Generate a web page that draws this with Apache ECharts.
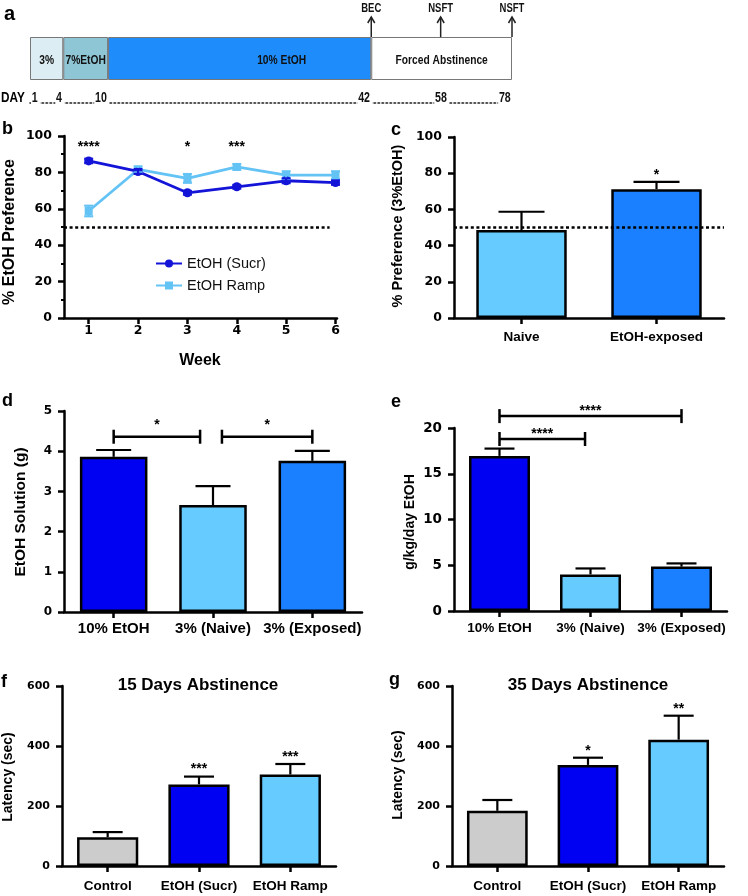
<!DOCTYPE html>
<html>
<head>
<meta charset="utf-8">
<title>EtOH preference figure</title>
<script src="https://cdn.jsdelivr.net/npm/echarts@6.0.0/dist/echarts.min.js"></script>
<style>
    html, body { margin: 0; padding: 0; background: #fff; }
    #main { width: 748px; height: 896px; }
</style>
</head>
<body>
<div id="main"></div>
<script>
// a: timeline (segment widths are schematic, not to day scale)
var phaseNames = ["3%", "7%EtOH", "10% EtOH", "Forced Abstinence"];
var phaseSpan = [6.9, 9.3, 54.6, 29.2];
var dayNames = ["1", "4", "10", "42", "58", "78"];
var dayPos = [0, 6.9, 16.2, 70.8, 85.2, 100];
var eventNames = ["BEC", "NSFT", "NSFT"];
var eventPos = [70.8, 85.2, 100];

// b: weekly preference
var weeks = [1, 2, 3, 4, 5, 6];
var sucrPref = [86.3, 80.5, 68.8, 72.1, 75.4, 74.4];
var sucrErr = [1.2, 1.3, 1.0, 1.0, 1.3, 1.2];
var rampPref = [58.8, 81.6, 76.7, 83.0, 78.5, 78.5];
var rampErr = [2.9, 1.6, 2.4, 1.5, 2.1, 2.1];
var weekSig = ["****", "", "*", "***", "", ""];

// c: 3% preference
var prefGroups = ["Naive", "EtOH-exposed"];
var prefMean = [48.6, 71.2];
var prefErr = [10.1, 4.0];
var prefSig = ["", "*"];

// d: solution consumed
var solGroups = ["10% EtOH", "3% (Naive)", "3% (Exposed)"];
var solMean = [3.86, 2.66, 3.76];
var solErr = [0.17, 0.47, 0.25];
var solBrFrom = [0, 1.09];
var solBrTo = [0.87, 2];
var solBrLevel = [4.36, 4.36];
var solBrSig = ["*", "*"];

// e: dose
var doseMean = [16.95, 4.0, 4.85];
var doseErr = [0.8, 0.65, 0.35];
var doseBrFrom = [0, 0];
var doseBrTo = [0.94, 2];
var doseBrLevel = [18.8, 21.3];
var doseBrSig = ["****", "****"];

// f, g: NSFT latency
var nsftGroups = ["Control", "EtOH (Sucr)", "EtOH Ramp"];
var lat15Mean = [96, 272, 305];
var lat15Err = [17, 26, 35];
var lat15Sig = ["", "***", "***"];
var lat35Mean = [184, 337, 421];
var lat35Err = [36, 24, 80];
var lat35Sig = ["", "*", "**"];

var DARK = "#0000f2", LIGHT = "#66ccff", MID = "#1a80ff", GREY = "#cccccc";
var LINE_DARK = "#1414d8", LINE_LIGHT = "#64c3f5";
var NUM_FONT = "DejaVu Sans";
var TXT_FONT = "Liberation Sans, Arial, sans-serif";

var grids = [], xAxes = [], yAxes = [], series = [], graphics = [];

function txt(x, y, s, size, opts) {
    opts = opts || {};
    graphics.push({
        type: "text", x: x, y: y, rotation: opts.rot || 0, scaleX: opts.sx || 1, silent: true,
        style: {
            text: s, fill: "#000", fontSize: size, fontWeight: opts.weight || "bold",
            fontFamily: TXT_FONT, align: opts.align || "center", verticalAlign: "middle"
        }
    });
}

function axisLine() {
    return {show: true, onZero: false, lineStyle: {color: "#000", width: 2.5}};
}

function axisTick(extra) {
    var t = {show: true, length: 6, lineStyle: {color: "#000", width: 2.5}};
    for (var k in extra) t[k] = extra[k];
    return t;
}

function catX(api, v) {
    var i0 = Math.floor(v), f = v - i0;
    var a = api.coord([i0, 0])[0];
    if (f === 0) return a;
    var b = api.coord([i0 + 1, 0])[0];
    return a + (b - a) * f;
}

// condensed text (no narrow font installed, so squeeze it)
function narrowText(x, y, s, size, align, vAlign, extra) {
    var st = {
        text: s, fill: "#111", fontSize: size, fontWeight: "bold", fontFamily: TXT_FONT,
        align: align, verticalAlign: vAlign
    };
    for (var k in extra) st[k] = extra[k];
    return {type: "text", x: x, y: y, scaleX: 0.76, style: st};
}

// error bars (up only for bars, both ways for the line plot)
function errorSeries(gi, xs, means, errs, color, capPx, both) {
    return {
        type: "custom", xAxisIndex: gi, yAxisIndex: gi, z: 4, silent: true, clip: false,
        encode: {x: 0, y: 1},
        data: means.map(function (m, i) { return [xs[i], m, errs[i]]; }),
        renderItem: function (params, api) {
            var m = api.value(1), e = api.value(2);
            var lo = api.coord([api.value(0), both ? m - e : m]);
            var hi = api.coord([api.value(0), m + e]);
            var st = {stroke: color, lineWidth: 2.2};
            var kids = [
                {type: "line", shape: {x1: hi[0], y1: lo[1], x2: hi[0], y2: hi[1]}, style: st},
                {type: "line", shape: {x1: hi[0] - capPx, y1: hi[1], x2: hi[0] + capPx, y2: hi[1]}, style: st}
            ];
            if (both) {
                kids.push({type: "line", shape: {x1: hi[0] - capPx, y1: lo[1], x2: hi[0] + capPx, y2: lo[1]}, style: st});
            }
            return {type: "group", children: kids};
        }
    };
}

// significance stars
function textSeries(gi, xs, ys, texts, dy, size) {
    return {
        type: "custom", xAxisIndex: gi, yAxisIndex: gi, z: 5, silent: true, clip: false,
        encode: {x: 0, y: 1},
        data: xs.map(function (x, i) { return [x, ys[i]]; }),
        renderItem: function (params, api) {
            var p = api.coord([api.value(0), api.value(1)]);
            return {
                type: "text", x: p[0], y: p[1] + dy,
                style: {
                    text: texts[params.dataIndex], fill: "#000", fontSize: size,
                    fontWeight: "bold", fontFamily: TXT_FONT, align: "center", verticalAlign: "middle"
                }
            };
        }
    };
}

// comparison brackets
function bracketSeries(gi, from, to, level, sig, starDy) {
    return {
        type: "custom", xAxisIndex: gi, yAxisIndex: gi, z: 5, silent: true, clip: false,
        encode: {x: 0, y: 1},
        data: level.map(function (l) { return [0, l]; }),
        renderItem: function (params, api) {
            var i = params.dataIndex;
            var y = api.coord([0, api.value(1)])[1];
            var x1 = catX(api, from[i]), x2 = catX(api, to[i]);
            var st = {stroke: "#000", lineWidth: 2.5};
            return {
                type: "group", children: [
                    {type: "line", shape: {x1: x1, y1: y, x2: x2, y2: y}, style: st},
                    {type: "line", shape: {x1: x1, y1: y - 7, x2: x1, y2: y + 7}, style: st},
                    {type: "line", shape: {x1: x2, y1: y - 7, x2: x2, y2: y + 7}, style: st},
                    {
                        type: "text", x: (x1 + x2) / 2, y: y - starDy,
                        style: {
                            text: sig[i], fill: "#000", fontSize: 14, fontWeight: "bold",
                            fontFamily: TXT_FONT, align: "center", verticalAlign: "middle"
                        }
                    }
                ]
            };
        }
    };
}

// generic bar panel
function barPanel(p) {
    var gi = grids.length;
    grids.push({left: p.left, top: p.top, width: p.width, height: p.height});
    xAxes.push({
        gridIndex: gi, type: "category", data: p.cats,
        axisLine: axisLine(), axisTick: axisTick({alignWithLabel: true}),
        axisLabel: {
            interval: 0, margin: p.catMargin, color: "#000", fontSize: p.catSize,
            fontWeight: "bold", fontFamily: TXT_FONT
        },
        splitLine: {show: false}
    });
    yAxes.push({
        gridIndex: gi, type: "value", min: 0, max: p.max, interval: p.step,
        axisLine: axisLine(), axisTick: axisTick(),
        axisLabel: {margin: 12, color: "#000", fontSize: p.numSize, fontWeight: "bold", fontFamily: NUM_FONT},
        splitLine: {show: false}
    });
    var bar = {
        type: "bar", xAxisIndex: gi, yAxisIndex: gi, barWidth: p.barWidth || "67%", silent: true,
        data: p.means.map(function (v, i) {
            return {value: v, itemStyle: {color: p.colors[i]}};
        }),
        itemStyle: {borderColor: "#000", borderWidth: 2.5}
    };
    if (p.refLine != null) {
        bar.markLine = {
            silent: true, symbol: ["none", "none"], label: {show: false},
            lineStyle: {color: "#000", width: 2.5, type: [3, 2.6]},
            data: [{yAxis: p.refLine}]
        };
    }
    series.push(bar);
    var idx = p.cats.map(function (c, i) { return i; });
    series.push(errorSeries(gi, idx, p.means, p.errs, "#000", p.cap, false));
    if (p.sig) {
        var tops = p.means.map(function (m, i) { return m + p.errs[i]; });
        series.push(textSeries(gi, idx, tops, p.sig, -7, 14));
    }
    return gi;
}

// ---- panel a ----
grids.push({left: 30, top: 37, width: 482, height: 43});
xAxes.push({gridIndex: 0, type: "value", min: 0, max: 100, show: false});
yAxes.push({gridIndex: 0, type: "category", data: ["phase"], show: false});
var phaseColors = ["#dcedf4", "#8fc6d6", "#1e8cfa", "#ffffff"];
var phaseShift = [0, 0, 42, 0];
var phaseMid = [];
var acc = 0;
phaseNames.forEach(function (name, i) {
    phaseMid.push(acc + phaseSpan[i] / 2);
    acc += phaseSpan[i];
    series.push({
        type: "bar", name: name, stack: "tl", xAxisIndex: 0, yAxisIndex: 0, barWidth: "100%", silent: true,
        data: [phaseSpan[i]],
        itemStyle: {color: phaseColors[i], borderColor: "#777", borderWidth: 1}
    });
});
// phase names
series.push({
    type: "custom", xAxisIndex: 0, yAxisIndex: 0, silent: true, clip: false, z: 5,
    encode: {x: 0, y: 1},
    data: phaseMid.map(function (p) { return [p, 0]; }),
    renderItem: function (params, api) {
        var i = params.dataIndex;
        var p = api.coord([api.value(0), 0]);
        return narrowText(p[0] + phaseShift[i], p[1] + 2, phaseNames[i], 13.5, "center", "middle");
    }
});
// BEC / NSFT arrows
series.push({
    type: "custom", xAxisIndex: 0, yAxisIndex: 0, silent: true, clip: false, z: 5,
    encode: {x: 0, y: 1},
    data: eventPos.map(function (p) { return [p, 0]; }),
    renderItem: function (params, api) {
        var x = api.coord([api.value(0), 0])[0];
        var top = params.coordSys.y;
        var st = {stroke: "#222", lineWidth: 1.5, fill: null};
        return {
            type: "group", children: [
                {type: "line", shape: {x1: x, y1: top, x2: x, y2: top - 20}, style: st},
                {type: "polyline", shape: {points: [[x - 3.5, top - 14], [x, top - 20], [x + 3.5, top - 14]]}, style: st},
                narrowText(x, 9, eventNames[params.dataIndex], 12.5, "center", "middle")
            ]
        };
    }
});

// day scale row
grids.push({left: 30, top: 90, width: 482, height: 13});
xAxes.push({
    gridIndex: 1, type: "value", min: 0, max: 100,
    axisLine: {show: true, lineStyle: {color: "#222", width: 1.6, type: [1.6, 2.4]}},
    axisTick: {show: false}, axisLabel: {show: false}, splitLine: {show: false}
});
yAxes.push({gridIndex: 1, type: "value", min: 0, max: 1, show: false});
var dayAlign = ["left", "right", "right", "right", "center", "right"];
series.push({
    type: "custom", xAxisIndex: 1, yAxisIndex: 1, silent: true, clip: false, z: 5,
    encode: {x: 0, y: 1},
    data: dayPos.map(function (p) { return [p, 0]; }),
    renderItem: function (params, api) {
        var p = api.coord([api.value(0), 0]);
        return narrowText(p[0] + 1, p[1] + 2, dayNames[params.dataIndex], 14, dayAlign[params.dataIndex], "bottom",
            {backgroundColor: "#fff", padding: [0, 3, 0, 1]});
    }
});
txt(1, 98, "DAY", 14, {align: "left", sx: 0.84});

// ---- panel b ----
grids.push({left: 64, top: 136, width: 273, height: 182});
xAxes.push({
    gridIndex: 2, type: "value", min: 0.5, max: 6.03,
    axisLine: axisLine(), axisTick: axisTick({customValues: weeks}),
    axisLabel: {customValues: weeks, margin: 6, color: "#000", fontSize: 12.5, fontWeight: "bold", fontFamily: NUM_FONT},
    splitLine: {show: false}
});
yAxes.push({
    gridIndex: 2, type: "value", min: 0, max: 100, interval: 20,
    axisLine: axisLine(), axisTick: axisTick(),
    minorTick: {show: true, splitNumber: 2, length: 3, lineStyle: {color: "#000", width: 2}},
    minorSplitLine: {show: false},
    axisLabel: {margin: 12, color: "#000", fontSize: 12.5, fontWeight: "bold", fontFamily: NUM_FONT},
    splitLine: {show: false}
});
series.push({
    type: "line", name: "EtOH Ramp", xAxisIndex: 2, yAxisIndex: 2, silent: true,
    data: weeks.map(function (w, i) { return [w, rampPref[i]]; }),
    symbol: "rect", symbolSize: 8, color: LINE_LIGHT,
    lineStyle: {width: 2.8, color: LINE_LIGHT}, itemStyle: {color: LINE_LIGHT}
});
series.push({
    type: "line", name: "EtOH (Sucr)", xAxisIndex: 2, yAxisIndex: 2, silent: true,
    data: weeks.map(function (w, i) { return [w, sucrPref[i]]; }),
    symbol: "circle", symbolSize: 9, color: LINE_DARK,
    lineStyle: {width: 2.8, color: LINE_DARK}, itemStyle: {color: LINE_DARK},
    markLine: {
        silent: true, symbol: ["none", "none"], label: {show: false},
        lineStyle: {color: "#000", width: 2.5, type: [3, 2.6]},
        data: [[{coord: [0.5, 50]}, {coord: [5.88, 50]}]]
    }
});
series.push(errorSeries(2, weeks, rampPref, rampErr, LINE_LIGHT, 4.5, true));
series.push(errorSeries(2, weeks, sucrPref, sucrErr, LINE_DARK, 4.5, true));
series.push(textSeries(2, weeks, weeks.map(function () { return 94; }), weekSig, 0, 14));
txt(200, 361, "Week", 16);
txt(10, 232, "% EtOH Preference", 16, {rot: Math.PI / 2});

// ---- panel c ----
barPanel({
    left: 454, top: 137, width: 270, height: 181, cats: prefGroups, means: prefMean, errs: prefErr,
    sig: prefSig, colors: [LIGHT, MID], max: 100, step: 20, numSize: 12.5, catSize: 13.5, catMargin: 12,
    cap: 23, refLine: 50
});
txt(398, 226, "% Preference (3%EtOH)", 14.5, {rot: Math.PI / 2});

// ---- panel d ----
var gd = barPanel({
    left: 64, top: 411, width: 298, height: 201, cats: solGroups, means: solMean, errs: solErr,
    colors: [DARK, LIGHT, MID], max: 5, step: 1, numSize: 12, catSize: 15, catMargin: 9,
    cap: 17.5, barWidth: "68%"
});
series.push(bracketSeries(gd, solBrFrom, solBrTo, solBrLevel, solBrSig, 12));
txt(21, 512, "EtOH Solution (g)", 15.5, {rot: Math.PI / 2});

// ---- panel e ----
var ge = barPanel({
    left: 454, top: 428, width: 273, height: 183, cats: solGroups, means: doseMean, errs: doseErr,
    colors: [DARK, LIGHT, MID], max: 20, step: 5, numSize: 13.5, catSize: 13.5, catMargin: 10,
    cap: 15
});
series.push(bracketSeries(ge, doseBrFrom, doseBrTo, doseBrLevel, doseBrSig, 5));
txt(410, 522, "g/kg/day EtOH", 14, {rot: Math.PI / 2});

// ---- panel f ----
barPanel({
    left: 62, top: 686, width: 274, height: 180, cats: nsftGroups, means: lat15Mean, errs: lat15Err,
    sig: lat15Sig, colors: [GREY, DARK, LIGHT], max: 600, step: 200, numSize: 11, catSize: 13.5,
    catMargin: 13.5, cap: 15
});
txt(198, 685, "15 Days Abstinence", 17);
txt(8, 777, "Latency (sec)", 14, {rot: Math.PI / 2});

// ---- panel g ----
barPanel({
    left: 452, top: 686, width: 272, height: 180, cats: nsftGroups, means: lat35Mean, errs: lat35Err,
    sig: lat35Sig, colors: [GREY, DARK, LIGHT], max: 600, step: 200, numSize: 11, catSize: 13.5,
    catMargin: 13.5, cap: 15
});
txt(588, 685, "35 Days Abstinence", 17);
txt(398, 775, "Latency (sec)", 14, {rot: Math.PI / 2});

// panel letters
txt(4, 14, "a", 20, {align: "left"});
txt(2, 129, "b", 18, {align: "left"});
txt(391, 130, "c", 18, {align: "left"});
txt(2, 401, "d", 18, {align: "left"});
txt(391, 402, "e", 18, {align: "left"});
txt(1, 682, "f", 18, {align: "left"});
txt(389, 680, "g", 18, {align: "left"});

var chart = echarts.init(document.getElementById("main"));
chart.setOption({
    animation: false,
    grid: grids,
    xAxis: xAxes,
    yAxis: yAxes,
    legend: {
        data: ["EtOH (Sucr)", "EtOH Ramp"], left: 150, top: 251, orient: "vertical",
        itemGap: 7, itemWidth: 26, itemHeight: 10, selectedMode: false,
        textStyle: {fontSize: 14.5, fontFamily: TXT_FONT, color: "#111"}
    },
    series: series,
    graphic: graphics
});
</script>
</body>
</html>
